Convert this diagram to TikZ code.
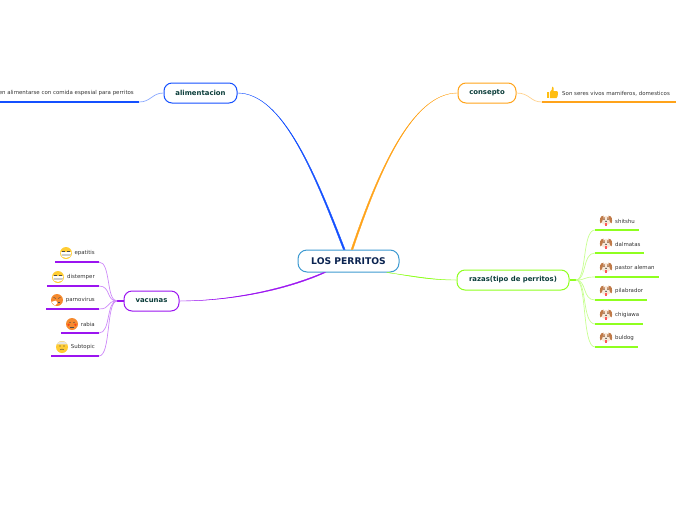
\documentclass[tikz,border=0pt]{standalone}
\usepackage{fontspec}
\setmainfont{DejaVu Sans}
\definecolor{cblue}{HTML}{1450FF}
\definecolor{corange}{HTML}{FFA31A}
\definecolor{cgreen}{HTML}{8FFF1F}
\definecolor{cpurple}{HTML}{9B14F0}
\definecolor{croot}{HTML}{3D9AD1}
\definecolor{ctopic}{HTML}{0B3D3A}
\definecolor{cnavy}{HTML}{0A2350}
\definecolor{cleaf}{HTML}{333333}
\definecolor{emoy}{HTML}{FFCC33}
\definecolor{emoo}{HTML}{F58A2E}
\definecolor{dogb}{HTML}{C07A48}
\definecolor{dogc}{HTML}{F8E8D8}
\tikzset{
  x=1pt,y=-1pt,
  rootbox/.style={draw=croot,line width=1pt,rounded corners=9pt,minimum width=101pt,minimum height=22pt,inner sep=0pt,fill=white,text=cnavy,font=\fontsize{9.2}{11}\selectfont\bfseries},
  topicbox/.style={draw=#1,line width=1pt,rounded corners=8pt,minimum height=20pt,inner sep=0pt,fill=white,text=ctopic,font=\fontsize{6.9}{8}\selectfont\bfseries},
  leaftext/.style={text=cleaf,inner sep=0pt,font=\fontsize{5.45}{6}\selectfont},
  leafline/.style={draw=#1,line width=1.6pt},
  minor/.style={draw=#1!50,line width=.7pt},
  stem/.style={draw=#1,line width=1.6pt},
  major/.style={draw=#1,fill=#1,line width=.35pt},
  dogface/.pic={
    \fill[dogc] (0,.3) circle (4.8);
    \fill[dogb] (-2.4,-4.6) .. controls (-6,-5) and (-6.8,0) .. (-5.6,3) .. controls (-4.2,3) and (-3.2,0) .. (-2.4,-4.6);
    \fill[dogb] (2.4,-4.6) .. controls (6,-5) and (6.8,0) .. (5.6,3) .. controls (4.2,3) and (3.2,0) .. (2.4,-4.6);
    \fill[dogb!70] (-3,-3.6) rectangle (-1,-.8);
    \fill[dogb!70] (3,-3.6) rectangle (1,-.8);
    \fill[black!85] (-2,-1.2) circle (.55) (2,-1.2) circle (.55) (0,1.1) circle (.75);
    \fill[red!65] (-.9,2.2) rectangle (.9,5.2);
  },
  maskface/.pic={
    \fill[emoy] (0,0) circle (6);
    \fill[white] (-5.4,-.8) -- (5.4,-.8) -- (4,3.6) -- (0,5) -- (-4,3.6) -- cycle;
    \draw[black!70,line width=.5pt] (-3.8,-2.2) -- (-1.4,-2.2) (1.4,-2.2) -- (3.8,-2.2);
    \draw[black!20,line width=.3pt] (-4.5,1) -- (4.5,1) (-4,2.6) -- (4,2.6);
  },
  sneezeface/.pic={
    \fill[emoo] (0,0) circle (6);
    \fill[white] (-5.6,2) -- (-1,.5) -- (.5,3) -- (-2,5.6) -- cycle;
    \draw[black!70,line width=.5pt] (-3.4,-2.6) -- (-1.2,-1.6) (3.4,-2.6) -- (1.2,-1.6);
    \draw[black!70,line width=.5pt] (1,2.4) -- (3,2.4);
  },
  hotface/.pic={
    \fill[emoo] (0,0) circle (6);
    \fill[red!50!emoo] (-3.4,.8) circle (1.3) (3.4,.8) circle (1.3);
    \fill[black!75] (-2,-1.5) circle (.6) (2,-1.5) circle (.6);
    \draw[black!70,line width=.5pt] (-1.8,2.8) -- (1.8,2.8);
  },
  hurtface/.pic={
    \fill[emoy] (0,0) circle (6);
    \fill[black!10] (-5,-3.4) .. controls (-3,-6.4) and (3,-6.4) .. (5,-3.4) -- (4.6,-2.6) -- (-4.6,-2.6) -- cycle;
    \fill[black!75] (-2,-1) circle (.6) (2,-1) circle (.6);
    \draw[black!70,line width=.5pt] (-1.8,2.8) .. controls (-.6,1.8) and (.6,1.8) .. (1.8,2.8);
  },
  thumbicon/.pic={
    \fill[corange!70!yellow] (-5.5,-.5) rectangle (-3.2,5.5);
    \fill[corange!70!yellow] (-2.6,-.5) -- (-.6,-3) -- (-.4,-6) .. controls (1.2,-6) and (1.6,-4) .. (1,-1.4) -- (4.6,-1.4) .. controls (6,-1.2) and (5.6,4.6) .. (4,5.5) -- (-2.6,5.5) -- cycle;
  },
}
\begin{document}
\begin{tikzpicture}
\useasboundingbox (0,0) rectangle (696,520);
\clip (0,0) rectangle (696,520);

\node[rootbox] (root) at (348.5,261) {LOS PERRITOS};
\node[topicbox=cblue,minimum width=73pt] (alim) at (200.5,93) {alimentacion};
\node[topicbox=corange,minimum width=58pt] (cons) at (487,93) {consepto};
\node[topicbox=cgreen,minimum width=112pt] (raza) at (513,280) {razas(tipo de perritos)};
\node[topicbox=cpurple,minimum width=55pt] (vacu) at (151.5,301) {vacunas};

\coordinate (rb1) at ([xshift=-5.2pt]root.north);
\coordinate (rb2) at ([xshift=-3.4pt]root.north);
\coordinate (ro1) at ([xshift=2.6pt]root.north);
\coordinate (ro2) at ([xshift=4.4pt]root.north);
\coordinate (rp1) at ([xshift=-25pt]root.south);
\coordinate (rp2) at ([xshift=-23pt]root.south);
\coordinate (rg1) at ([xshift=38pt]root.south);
\coordinate (rg2) at ([xshift=40pt]root.south);

\coordinate (rs) at (576,280);
\coordinate (vs) at (117,301);

\coordinate (la) at (139,102);
\coordinate (lc) at (542,102);

\draw[major=cblue] (rb1) .. controls (313.5,172) and (282,93) .. (alim.east) .. controls (282,93) and (315,172) .. (rb2) -- cycle;
\draw[major=corange] (ro1) .. controls (377.5,172) and (412,93) .. (cons.west) .. controls (412,93) and (379,172) .. (ro2) -- cycle;
\draw[major=cpurple] (rp1) .. controls (280,291) and (225,301) .. (vacu.east) .. controls (225,301) and (281,292.5) .. (rp2) -- cycle;
\draw[major=cgreen] (rg1) .. controls (420,277) and (435,280) .. (raza.west) .. controls (435,280) and (421,278.3) .. (rg2) -- cycle;

\draw[minor=cblue] (alim.west) .. controls (152,93) and (151,102) .. (la);
\draw[minor=corange] (cons.east) .. controls (530,93) and (530,102) .. (lc);
\draw[stem=cgreen] (raza.east) -- (rs);
\draw[stem=cpurple] (vacu.west) -- (vs);

\coordinate (lae) at (0,102);
\draw[leafline=cblue] (lae) -- (la);
\node[leaftext,anchor=east] (ta) at (134,93.3) {en alimentarse con comida espesial para perritos};

\coordinate (lce) at (676,102);
\draw[leafline=corange] (lc) -- (lce);
\node[leaftext,anchor=west] (tc) at (562,93.3) {Son seres vivos mamiferos, domesticos};
\pic at (552.5,92.5) {thumbicon};

\foreach \i/\y/\xe/\t in {1/230/639/shitshu,2/253/644/dalmatas,3/277/659/pastor aleman,4/300/647/pilabrador,5/324/643/chigiawa,6/347/638/buldog}{
  \coordinate (gs\i) at (595,\y);
  \coordinate (ge\i) at (\xe,\y);
  \draw[minor=cgreen] (rs) .. controls (587,280) and (582,\y) .. (gs\i);
  \draw[leafline=cgreen] (gs\i) -- (ge\i);
  \node[leaftext,anchor=west] (gt\i) at (615,\y-8.7) {\t};
  \pic at (606,\y-9.7) {dogface};
}

\foreach \i/\y/\xs/\t/\ic/\ix in {1/262/55/epatitis/maskface/66,2/286/47/distemper/maskface/58,3/309/46/parnovirus/sneezeface/57,4/333/61/rabia/hotface/72,5/356/51/Subtopic/hurtface/62}{
  \coordinate (ps\i) at (99,\y);
  \coordinate (pe\i) at (\xs,\y);
  \draw[minor=cpurple] (vs) .. controls (106,301) and (111,\y) .. (ps\i);
  \draw[leafline=cpurple] (ps\i) -- (pe\i);
  \node[leaftext,anchor=east] (pt\i) at (95,\y-8.7) {\t};
  \pic at (\ix,\y-9) {\ic};
}
\end{tikzpicture}
\end{document}
